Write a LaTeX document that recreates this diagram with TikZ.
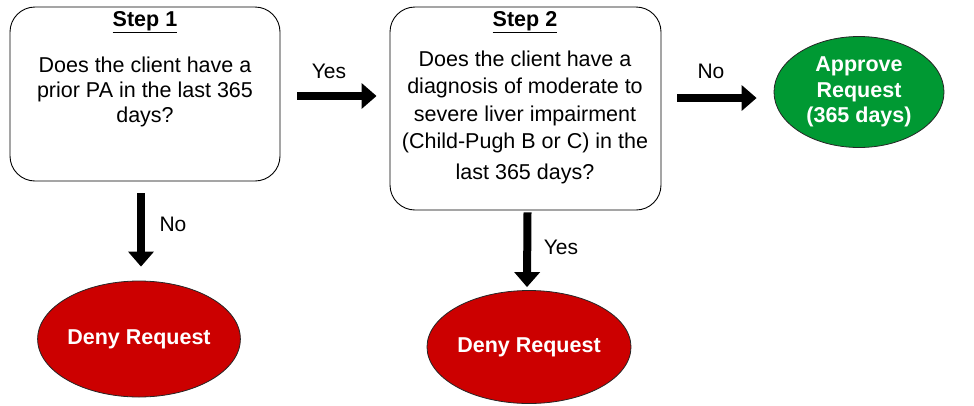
\documentclass[tikz,border=0pt]{standalone}
\usepackage{fontspec}
\setmainfont{Liberation Sans}
\usetikzlibrary{arrows.meta,shapes.geometric}
\definecolor{denyred}{RGB}{204,0,0}
\definecolor{okgreen}{RGB}{0,153,51}
\begin{document}
\begin{tikzpicture}[x=1pt,y=-1pt,
  qbox/.style={draw, rounded corners=25pt, line width=0.9pt, inner sep=0pt},
  title/.style={font=\fontsize{21.5}{24}\selectfont\bfseries},
  body/.style={font=\fontsize{21.5}{25}\selectfont, align=center},
  term/.style={ellipse, draw=black!85, line width=0.8pt, text=white,
    font=\fontsize{21.5}{25.5}\selectfont\bfseries, align=center, inner sep=0pt},
  bigarrow/.style={line width=8pt, -{Triangle[width=25pt,length=15pt]}},
  lbl/.style={font=\fontsize{21}{24}\selectfont}]
\useasboundingbox (0,0) rectangle (974,405);

% question boxes
\node[qbox, minimum width=270pt, minimum height=174pt] (s1) at (145,94) {};
\node[qbox, minimum width=271pt, minimum height=203pt] (s2) at (525.5,108.5) {};

\node[title] (t1) at (145,22) {\underline{Step 1}};
\node[body] (q1) at (145,92) {Does the client have a\\prior PA in the last 365\\days?};

\node[title] (t2) at (525,22) {\underline{Step 2}};
\node[body, font=\fontsize{21.5}{27.5}\selectfont] (q2) at (525,117)
  {Does the client have a\\diagnosis of moderate to\\severe liver impairment\\(Child-Pugh B or C) in the\\[3pt]last 365 days?};

% outcomes
\node[term, fill=okgreen, minimum width=170pt, minimum height=111pt] (ap) at (859,92)
  {Approve\\Request\\(365 days)};
\node[term, fill=denyred, minimum width=202pt, minimum height=116pt] (d1) at (139,339)
  {Deny Request};
\node[term, fill=denyred, minimum width=204pt, minimum height=113pt] (d2) at (529,347)
  {Deny Request};

% connectors
\draw[bigarrow] ([shift={(17,2)}]s1.east) -- ([shift={(-13,-12.5)}]s2.west);
\draw[bigarrow] ([shift={(16,-10.5)}]s2.east) -- ([shift={(-17,6)}]ap.west);
\draw[bigarrow] ([shift={(-4,12)}]s1.south) -- ([shift={(2,-14)}]d1.north);
\draw[bigarrow] ([shift={(2,2)}]s2.south) -- ([shift={(-2,-3)}]d2.north);

% connector labels
\node[lbl] (yes1) at (329,71) {Yes};
\node[lbl] (no1) at (711,71) {No};
\node[lbl] (no2) at (173,224) {No};
\node[lbl] (yes2) at (561,247) {Yes};
\end{tikzpicture}
\end{document}
